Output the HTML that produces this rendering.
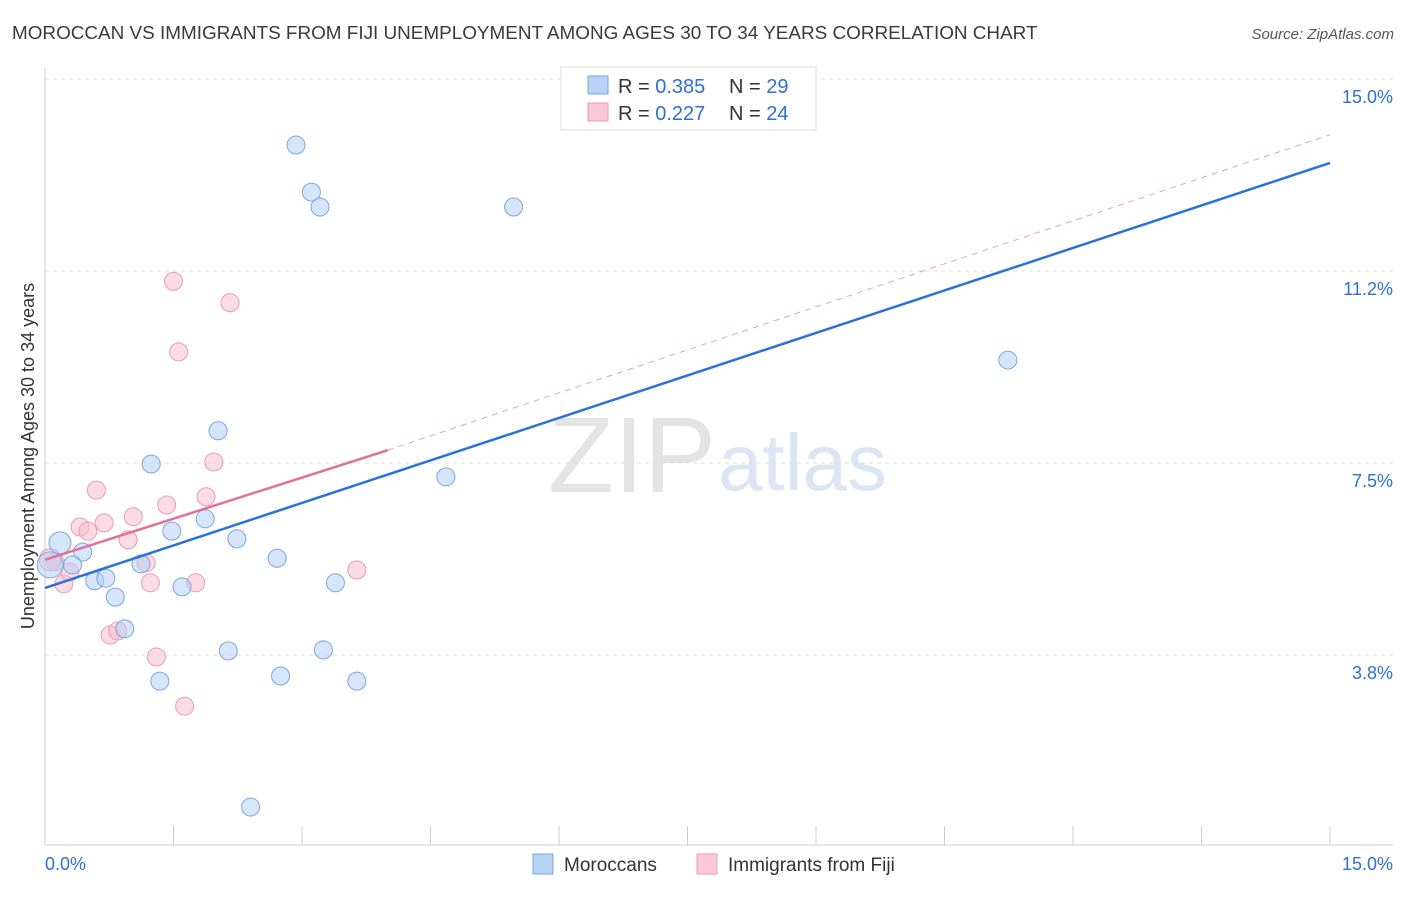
<!DOCTYPE html>
<html><head><meta charset="utf-8"><style>
body{margin:0;background:#fff;font-family:"Liberation Sans",sans-serif;}
svg text{font-family:"Liberation Sans",sans-serif;}
</style></head><body>
<svg id="chart" width="1406" height="892" xmlns="http://www.w3.org/2000/svg">
<text x="12" y="39" font-size="18.9" fill="#3a3a3a">MOROCCAN VS IMMIGRANTS FROM FIJI UNEMPLOYMENT AMONG AGES 30 TO 34 YEARS CORRELATION CHART</text>
<text x="1394" y="39" font-size="15" font-style="italic" fill="#555" text-anchor="end">Source: ZipAtlas.com</text>
<text x="716" y="492" font-size="108" fill="#e4e4e4" text-anchor="end" font-family="Liberation Serif">ZIP</text>
<text x="718" y="490" font-size="80" fill="#dbe6f4">atlas</text>
<text transform="translate(34,456) rotate(-90)" font-size="18" fill="#333" text-anchor="middle">Unemployment Among Ages 30 to 34 years</text>
<g id="grid"></g><g id="marks"></g>
<g>
<rect x="561" y="67" width="255" height="63" fill="#fff" stroke="#ddd"/>
<rect x="588" y="76" width="20" height="18" fill="#b8d3f5" stroke="#7aa7e0"/>
<text x="618" y="93" font-size="20" fill="#333">R = <tspan fill="#2f6fd6">0.385</tspan></text>
<text x="729" y="93" font-size="20" fill="#333">N = <tspan fill="#2f6fd6">29</tspan></text>
<rect x="588" y="103" width="20" height="18" fill="#fac8d6" stroke="#ee99b3"/>
<text x="618" y="120" font-size="20" fill="#333">R = <tspan fill="#2f6fd6">0.227</tspan></text>
<text x="729" y="120" font-size="20" fill="#333">N = <tspan fill="#2f6fd6">24</tspan></text>
</g>
<g>
<rect x="533" y="854" width="20" height="20" fill="#b8d3f5" stroke="#7aa7e0"/>
<text x="564" y="871" font-size="19" fill="#333">Moroccans</text>
<rect x="697" y="854" width="20" height="20" fill="#fac8d6" stroke="#ee99b3"/>
<text x="728" y="871" font-size="19" fill="#333">Immigrants from Fiji</text>
</g>
</svg>
<script>
const xTicks=[0,1.5,3,4.5,6,7.5,9,10.5,12,13.5,15];
const yTicks=[3.75,7.5,11.25,15];
const yTickLabels=["3.8%","7.5%","11.2%","15.0%"];
const moroccanX=[0.175,0.44,0.32,0.58,0.71,0.82,0.93,1.24,1.12,1.34,1.48,1.60,1.87,2.02,2.24,2.14,2.40,2.71,2.75,2.93,3.11,3.21,3.25,3.39,3.64,4.68,5.47,11.24,0.06];
const moroccanY=[5.94,5.76,5.51,5.20,5.25,4.88,4.26,7.48,5.53,3.24,6.17,5.08,6.41,8.13,6.02,3.83,0.78,5.64,3.34,13.71,12.79,12.50,3.85,5.16,3.24,7.23,12.50,9.51,5.51];
const fijiX=[0.12,0.22,0.41,0.50,0.60,0.69,0.76,0.85,0.97,1.03,1.18,1.23,1.30,1.42,1.50,1.56,1.63,1.76,1.88,1.97,2.16,3.64,0.29,0.06];
const fijiY=[5.57,5.14,6.25,6.17,6.97,6.33,4.14,4.22,6.00,6.45,5.55,5.16,3.71,6.68,11.05,9.67,2.75,5.16,6.84,7.52,10.63,5.41,5.37,5.61];
const moroccanLine=[[0,5.06],[15,13.36]];
const fijiLine=[[0,5.61],[4.0,7.75]];
const fijiDash=[[4.0,7.75],[15,13.91]];
const NS="http://www.w3.org/2000/svg";
const sx=v=>45+v/15*1285, sy=v=>847-v/3.75*192;
function mk(t,a,p){const e=document.createElementNS(NS,t);for(const k in a)e.setAttribute(k,a[k]);p.appendChild(e);return e;}
const g=document.getElementById('grid'), m=document.getElementById('marks');
yTicks.forEach((v,i)=>{
 const l=mk('line',{x1:45,x2:1393,y1:sy(v),y2:sy(v),stroke:'#ddd','stroke-dasharray':'4,4'},g);
 
 
 const t=mk('text',{x:1393,y:sy(v)+24,'font-size':18,fill:'#2f6fd6','text-anchor':'end'},g);t.textContent=yTickLabels[i];
 
 
});
const ax=mk('line',{x1:45,x2:45,y1:68,y2:845,stroke:'#ccc'},g);


const bx=mk('line',{x1:45,x2:1393,y1:845,y2:845,stroke:'#ccc'},g);


xTicks.forEach(v=>{const l=mk('line',{x1:sx(v),x2:sx(v),y1:826,y2:845,stroke:'#ccc'},g);
 
 });
let t=mk('text',{x:45,y:870,'font-size':18,fill:'#2f6fd6'},g);t.textContent=xTicks[0].toFixed(1)+'%';


t=mk('text',{x:1393,y:870,'font-size':18,fill:'#2f6fd6','text-anchor':'end'},g);t.textContent=xTicks[xTicks.length-1].toFixed(1)+'%';


fijiX.forEach((x,i)=>{const c=mk('circle',{cx:sx(x),cy:sy(fijiY[i]),r:i==fijiX.length-1?11:9,fill:'rgba(248,190,208,0.55)',stroke:'#ee9ab4','stroke-width':1},m);
 
 });
moroccanX.forEach((x,i)=>{const c=mk('circle',{cx:sx(x),cy:sy(moroccanY[i]),r:i==0?11:(i==moroccanX.length-1?13:9),fill:'rgba(180,208,244,0.55)',stroke:'#7aa7e0','stroke-width':1},m);
 
 });
let l=mk('line',{x1:sx(fijiDash[0][0]),y1:sy(fijiDash[0][1]),x2:sx(fijiDash[1][0]),y2:sy(fijiDash[1][1]),stroke:'#f0a0b8','stroke-width':1,'stroke-dasharray':'6,5'},m);


l=mk('line',{x1:sx(moroccanLine[0][0]),y1:sy(moroccanLine[0][1]),x2:sx(moroccanLine[1][0]),y2:sy(moroccanLine[1][1]),stroke:'#2a72d8','stroke-width':2.5},m);


l=mk('line',{x1:sx(fijiLine[0][0]),y1:sy(fijiLine[0][1]),x2:sx(fijiLine[1][0]),y2:sy(fijiLine[1][1]),stroke:'#e0709a','stroke-width':2.5},m);


</script>
</body></html>
